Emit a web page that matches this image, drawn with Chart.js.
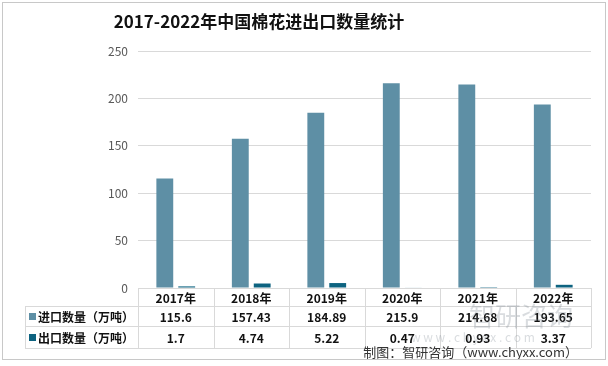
<!DOCTYPE html>
<html lang="zh">
<head>
  <meta charset="UTF-8" />
  <title>2017-2022年中国棉花进出口数量统计</title>
  <script src="https://cdn.jsdelivr.net/npm/chart.js"></script>
  <style>
    html, body { margin: 0; padding: 0; background: #fff; }
    .wrap {
      position: relative;
      width: 604px;
      height: 358px;
      margin: 2px 0 0 2px;
      border: 1px solid #c8c8c8;
      box-sizing: border-box;
    }
    canvas { display: block; }
  </style>
</head>
<body>
  <div class="wrap">
    <canvas id="cotton" width="602" height="356"></canvas>
  </div>

  <script>
    const years = ['2017年', '2018年', '2019年', '2020年', '2021年', '2022年'];
    const importVals = [115.6, 157.43, 184.89, 215.9, 214.68, 193.65];
    const exportVals = [1.7, 4.74, 5.22, 0.47, 0.93, 3.37];
    const importLabels = ['115.6', '157.43', '184.89', '215.9', '214.68', '193.65'];
    const exportLabels = ['1.7', '4.74', '5.22', '0.47', '0.93', '3.37'];
    const seriesNames = ['进口数量（万吨）', '出口数量（万吨）'];
    const colors = ['#5e8fa5', '#0d6380'];

    const FONT = '"Noto Sans CJK SC", "Noto Sans", sans-serif';

    // title + data table under the plot (Excel style)
    const tablePlugin = {
      id: 'tablePlugin',
      afterDraw(chart) {
        const c = chart.ctx;
        const x = chart.scales.x;
        const area = chart.chartArea;
        const step = (area.right - area.left) / years.length;
        const top = area.bottom;
        const rows = [top, top + 18, top + 38, top + 60];
        const leftEdge = 22;

        c.save();
        // title
        c.fillStyle = '#111';
        c.font = 'bold 17px ' + FONT;
        c.textAlign = 'center';
        c.textBaseline = 'middle';
        c.fillText('2017-2022年中国棉花进出口数量统计', 256, 19);

        // grid of the table
        c.strokeStyle = '#d9d9d9';
        c.lineWidth = 1;
        c.beginPath();
        for (let i = 0; i <= years.length; i++) {
          const px = Math.round(area.left + i * step) + 0.5;
          c.moveTo(px, rows[0]);
          c.lineTo(px, rows[3]);
        }
        c.moveTo(leftEdge + 0.5, rows[1]);
        c.lineTo(leftEdge + 0.5, rows[3]);
        for (let r = 1; r < rows.length; r++) {
          c.moveTo(leftEdge, rows[r] + 0.5);
          c.lineTo(area.right, rows[r] + 0.5);
        }
        c.stroke();

        c.fillStyle = '#111';
        c.font = 'bold 12px ' + FONT;
        c.textAlign = 'center';
        years.forEach((y, i) => {
          const cx = x.getPixelForValue(i);
          c.fillText(y, cx, (rows[0] + rows[1]) / 2 + 1);
          c.fillText(importLabels[i], cx, (rows[1] + rows[2]) / 2 + 1);
          c.fillText(exportLabels[i], cx, (rows[2] + rows[3]) / 2 + 1);
        });

        // series names with colour keys
        c.textAlign = 'left';
        seriesNames.forEach((name, k) => {
          const cy = (rows[k + 1] + rows[k + 2]) / 2;
          c.fillStyle = colors[k];
          c.fillRect(leftEdge + 4, cy - 3, 7, 7);
          c.fillStyle = '#111';
          c.fillText(name, leftEdge + 13, cy + 1);
        });

        // faint watermark
        c.fillStyle = 'rgba(120,130,140,0.28)';
        c.font = '26px ' + FONT;
        c.fillText('智研咨询', 466, 313);
        c.font = '12px ' + FONT;
        c.fillText('w w w . c h y x x . c o m', 408, 334);

        // source note
        c.fillStyle = '#333';
        c.font = '13px ' + FONT;
        c.textAlign = 'right';
        c.fillText('制图：智研咨询（www.chyxx.com）', 575, 349);
        c.restore();
      }
    };

    new Chart(document.getElementById('cotton'), {
      type: 'bar',
      data: {
        labels: years,
        datasets: [
          { label: seriesNames[0], data: importVals, backgroundColor: colors[0] },
          { label: seriesNames[1], data: exportVals, backgroundColor: colors[1] }
        ]
      },
      options: {
        responsive: false,
        animation: false,
        layout: { padding: { top: 48, right: 14, bottom: 63, left: 0 } },
        datasets: {
          bar: { categoryPercentage: 0.58, barPercentage: 0.77 }
        },
        plugins: {
          legend: { display: false },
          tooltip: { enabled: false }
        },
        scales: {
          x: {
            ticks: { display: false },
            grid: { display: false },
            border: { color: '#d9d9d9' }
          },
          y: {
            min: 0,
            max: 250,
            afterFit(scale) { scale.width = 135; },
            ticks: {
              stepSize: 50,
              color: '#595959',
              padding: 10,
              font: { size: 12, family: FONT }
            },
            grid: { color: '#d9d9d9', drawTicks: false },
            border: { display: false }
          }
        }
      },
      plugins: [tablePlugin]
    });
  </script>
</body>
</html>
